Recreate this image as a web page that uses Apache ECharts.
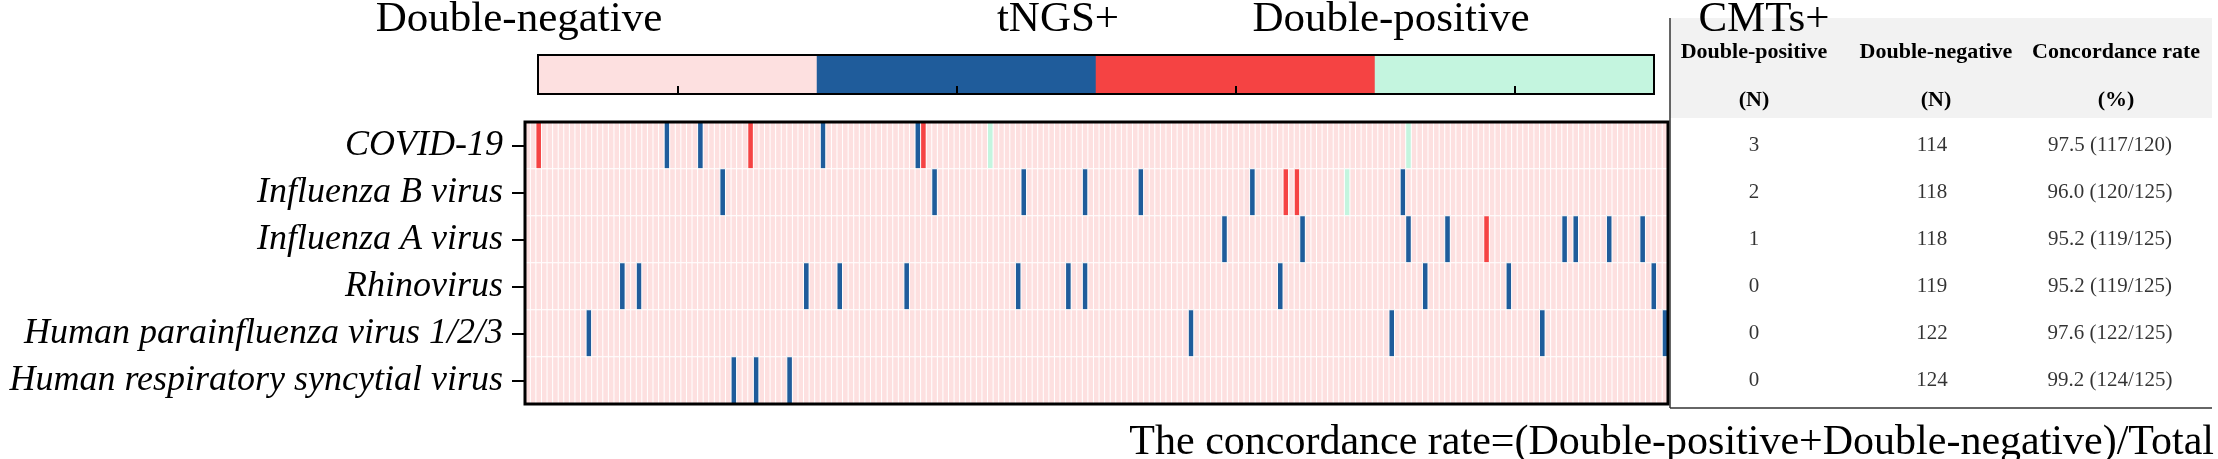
<!DOCTYPE html>
<html>
<head>
<meta charset="utf-8">
<title>tNGS vs CMTs concordance</title>
<script src="https://cdn.jsdelivr.net/npm/echarts@6/dist/echarts.min.js"></script>
<style>
  html, body { margin: 0; padding: 0; background: #fff; }
  #main { width: 2218px; height: 459px; }
</style>
</head>
<body>
<div id="main"></div>
<script>
// ---- data ----
var sampleCount = 205;
var viruses = ['COVID-19', 'Influenza B virus', 'Influenza A virus', 'Rhinovirus',
               'Human parainfluenza virus 1/2/3', 'Human respiratory syncytial virus'];
var categories = ['Double-negative', 'tNGS+', 'Double-positive', 'CMTs+'];

// sample (column) indexes per virus row
var tngsOnly = [
  [25, 31, 53, 70],
  [35, 73, 89, 100, 110, 130, 157],
  [125, 139, 158, 165, 186, 188, 194, 200],
  [17, 20, 50, 56, 68, 88, 97, 100, 135, 161, 176, 202],
  [11, 119, 155, 182, 204],
  [37, 41, 47]
];
var doublePositive = [
  [2, 40, 71],
  [136, 138],
  [172],
  [], [], []
];
var cmtsOnly = [
  [83, 158],
  [147],
  [], [], [], []
];

// table on the right
var tableHead = ['Double-positive', 'Double-negative', 'Concordance rate'];
var tableUnit = ['(N)', '(N)', '(%)'];
var tablePos = [3, 2, 1, 0, 0, 0];
var tableNeg = [114, 118, 118, 119, 122, 124];
var tableRate = ['97.5 (117/120)', '96.0 (120/125)', '95.2 (119/125)',
                 '95.2 (119/125)', '97.6 (122/125)', '99.2 (124/125)'];
var footnote = 'The concordance rate=(Double-positive+Double-negative)/Total';

// ---- styles ----
var colors = ['#fde0e0', '#1f5c9b', '#f54343', '#c4f5df'];
var serif = "'Times New Roman', 'Liberation Serif', serif";

// build heatmap cells
var cells = [];
for (var r = 0; r < viruses.length; r++) {
  var codes = [];
  for (var c = 0; c < sampleCount; c++) codes.push(0);
  tngsOnly[r].forEach(function (i) { codes[i] = 1; });
  doublePositive[r].forEach(function (i) { codes[i] = 2; });
  cmtsOnly[r].forEach(function (i) { codes[i] = 3; });
  for (var c2 = 0; c2 < sampleCount; c2++) cells.push([c2, r, codes[c2]]);
}
var columns = [];
for (var k = 0; k < sampleCount; k++) columns.push(String(k + 1));

var legendCells = categories.map(function (name, i) { return [i, 0, i]; });

var tableData = [];
for (var t = 0; t < viruses.length; t++) {
  tableData.push([0, t, String(tablePos[t])]);
  tableData.push([1, t, String(tableNeg[t])]);
  tableData.push([2, t, tableRate[t]]);
}

// label positions above the colour bar and table header
var legendLabelX = [519, 1058, 1391, 1764];
var headX = [1754, 1936, 2116];

var graphics = [];
graphics.push({ type: 'rect', z: 0, shape: { x: 1670, y: 18, width: 542, height: 100 }, style: { fill: '#f2f2f2' } });
categories.forEach(function (name, i) {
  graphics.push({ type: 'text', z: 20, style: { text: name, x: legendLabelX[i], y: 20, textAlign: 'center', textVerticalAlign: 'middle', fill: '#000', fontSize: 43, fontFamily: serif } });
});
tableHead.forEach(function (name, i) {
  graphics.push({ type: 'text', z: 20, style: { text: name, x: headX[i], y: 52, textAlign: 'center', textVerticalAlign: 'middle', fill: '#000', fontSize: 22, fontWeight: 'bold', fontFamily: serif } });
  graphics.push({ type: 'text', z: 20, style: { text: tableUnit[i], x: headX[i], y: 100, textAlign: 'center', textVerticalAlign: 'middle', fill: '#000', fontSize: 22, fontWeight: 'bold', fontFamily: serif } });
});
graphics.push({ type: 'line', z: 20, shape: { x1: 1670, y1: 18, x2: 1670, y2: 408 }, style: { stroke: '#333', lineWidth: 1.5 } });
graphics.push({ type: 'line', z: 20, shape: { x1: 1670, y1: 408, x2: 2212, y2: 408 }, style: { stroke: '#333', lineWidth: 1.5 } });
graphics.push({ type: 'text', z: 20, style: { text: footnote, x: 2214, y: 443, textAlign: 'right', textVerticalAlign: 'middle', fill: '#000', fontSize: 42, fontFamily: serif } });

var myChart = echarts.init(document.getElementById('main'));

var option = {
  animation: false,
  backgroundColor: '#fff',
  grid: [
    { left: 538, top: 55, width: 1116, height: 39, show: true, z: 10, backgroundColor: 'transparent', borderColor: '#000', borderWidth: 2 },
    { left: 525, top: 122, width: 1143, height: 282, show: true, z: 10, backgroundColor: 'transparent', borderColor: '#000', borderWidth: 3 },
    { left: 1665, top: 122, width: 534, height: 282 }
  ],
  xAxis: [
    { gridIndex: 0, type: 'category', data: categories, z: 12,
      axisLine: { show: true, lineStyle: { color: '#000', width: 2 } },
      axisTick: { show: true, inside: true, length: 8, alignWithLabel: true, lineStyle: { color: '#000', width: 2 } },
      axisLabel: { show: false }, splitLine: { show: false } },
    { gridIndex: 1, type: 'category', data: columns, show: false },
    { gridIndex: 2, type: 'category', data: tableHead, show: false }
  ],
  yAxis: [
    { gridIndex: 0, type: 'category', data: ['legend'], show: false },
    { gridIndex: 1, type: 'category', data: viruses, inverse: true,
      axisLine: { show: false },
      axisTick: { show: true, interval: 0, length: 13, alignWithLabel: true, lineStyle: { color: '#000', width: 2 } },
      axisLabel: { interval: 0, hideOverlap: false, color: '#000', fontSize: 36, fontStyle: 'italic', fontFamily: serif, margin: 22 },
      splitLine: { show: false } },
    { gridIndex: 2, type: 'category', data: viruses, inverse: true, show: false }
  ],
  visualMap: {
    type: 'piecewise', show: false, dimension: 2, seriesIndex: [0, 1],
    pieces: categories.map(function (name, i) { return { value: i, label: name, color: colors[i] }; })
  },
  graphic: graphics,
  series: [
    { type: 'heatmap', xAxisIndex: 0, yAxisIndex: 0, data: legendCells, itemStyle: { borderWidth: 0 }, emphasis: { disabled: true } },
    { type: 'heatmap', xAxisIndex: 1, yAxisIndex: 1, data: cells, progressive: 0,
      itemStyle: { borderColor: '#fff', borderWidth: 1 }, emphasis: { disabled: true } },
    { type: 'scatter', xAxisIndex: 2, yAxisIndex: 2, data: tableData, symbolSize: 0, silent: true,
      label: { show: true, position: 'inside', color: '#000', fontSize: 21, fontFamily: "SimSun, 'Liberation Serif', serif",
        formatter: function (p) { return p.data[2]; } } }
  ]
};
myChart.setOption(option);
</script>
</body>
</html>
